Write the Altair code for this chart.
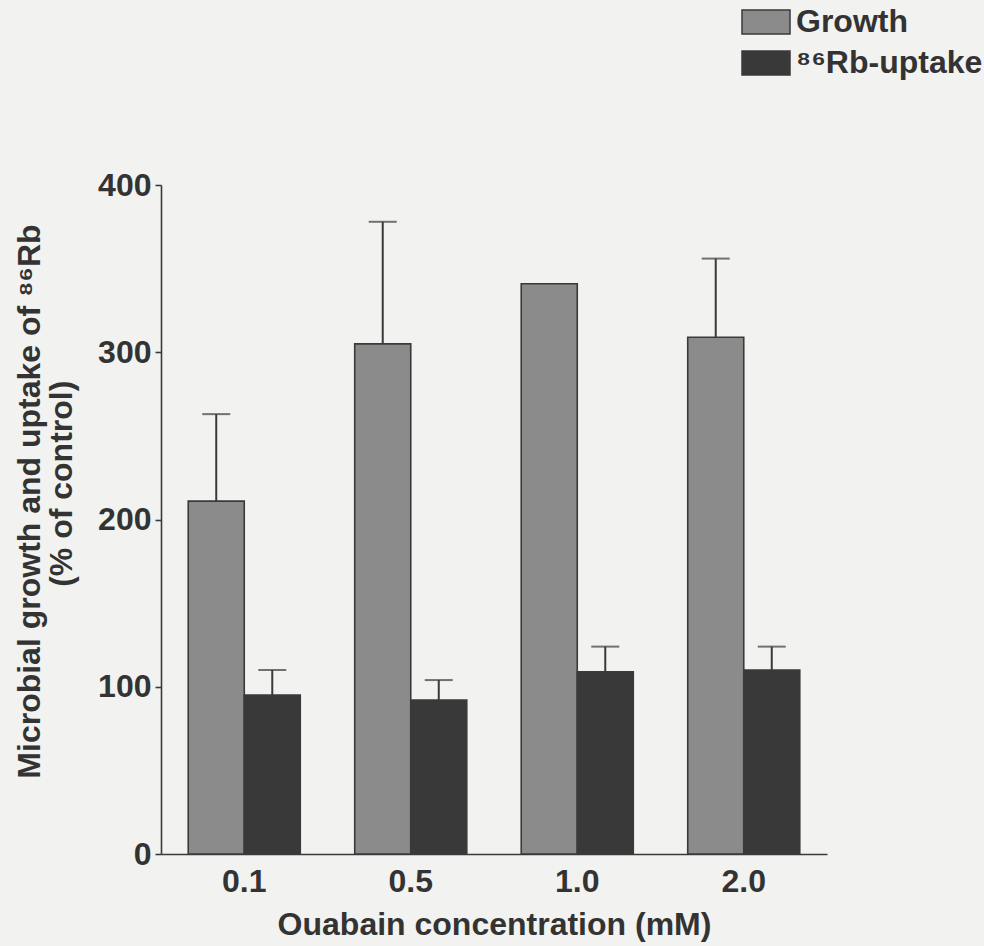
import altair as alt
import pandas as pd

concentrations = ["0.1", "0.5", "1.0", "2.0"]
series = ["Growth", "⁸⁶Rb-uptake"]
growth = [211, 305, 341, 309]
growth_err_top = [263, 378, 341, 356]
rb = [95, 92, 109, 110]
rb_err_top = [110, 104, 124, 124]

rows = []
for i, c in enumerate(concentrations):
    rows.append({"conc": c, "series": series[0], "value": growth[i], "top": growth_err_top[i]})
    rows.append({"conc": c, "series": series[1], "value": rb[i], "top": rb_err_top[i]})
df = pd.DataFrame(rows)
df_err = df[df["top"] > df["value"]]

FONT = "Liberation Sans"
INK = "#3a3a3a"
NB = "\u00a0"
ZW = "\u200b"

x_enc = alt.X("conc:N", sort=concentrations,
              scale=alt.Scale(paddingInner=0.327, paddingOuter=0.1635),
              axis=alt.Axis(title="Ouabain concentration (mM)", labelAngle=0, ticks=False,
                            labelPadding=12, titlePadding=12))
xoff = alt.XOffset("series:N", sort=series, scale=alt.Scale(paddingInner=0, paddingOuter=0))
y_scale = alt.Scale(domain=[0, 400], nice=False, zero=True)

bars = alt.Chart(df).mark_bar(stroke=INK, strokeWidth=1.6).encode(
    x=x_enc,
    xOffset=xoff,
    y=alt.Y("value:Q", scale=y_scale,
            axis=alt.Axis(title=["Microbial growth and uptake of ⁸⁶Rb",
                                 ZW + NB * 4 + "(% of control)"],
                          values=[0, 100, 200, 300, 400], grid=False, tickSize=6,
                          labelPadding=4, titlePadding=19, titleLineHeight=32,
                          titleY=316)),
    color=alt.Color("series:N", sort=series,
                    scale=alt.Scale(domain=series, range=["#8b8b8b", "#393939"]),
                    legend=alt.Legend(title=None, orient="none", legendX=580, legendY=-188,
                                      symbolType="M-1,-0.5H1V0.5H-1Z", symbolSize=2304,
                                      symbolStrokeColor=INK, symbolStrokeWidth=1.5,
                                      labelFontSize=32, labelFont=FONT, labelFontWeight="bold",
                                      labelColor="#333333", labelOffset=5, rowPadding=-5,
                                      labelLimit=400, padding=0)),
)

rules = alt.Chart(df_err).mark_rule(color=INK, strokeWidth=2).encode(
    x=alt.X("conc:N", sort=concentrations), xOffset=xoff,
    y=alt.Y("value:Q", scale=y_scale), y2="top:Q",
)
caps = alt.Chart(df_err).mark_tick(color=INK, thickness=2, size=28, orient="horizontal").encode(
    x=alt.X("conc:N", sort=concentrations), xOffset=xoff,
    y=alt.Y("top:Q", scale=y_scale),
)

chart = alt.layer(bars, rules, caps).properties(
    width=666, height=669,
    autosize=alt.AutoSizeParams(type="none"),
    padding={"left": 161, "top": 185, "right": 157, "bottom": 92},
    background="#f2f2f0",
).configure_view(stroke=None).configure_axis(
    domainColor=INK, domainWidth=1.6, tickColor=INK, tickWidth=1.6,
    labelFont=FONT, labelFontSize=32, labelFontWeight="bold", labelColor="#333333",
    titleFont=FONT, titleFontSize=32, titleFontWeight="bold", titleColor="#333333",
)

chart.save("out.html", embed_options={"renderer": "svg", "actions": False})
